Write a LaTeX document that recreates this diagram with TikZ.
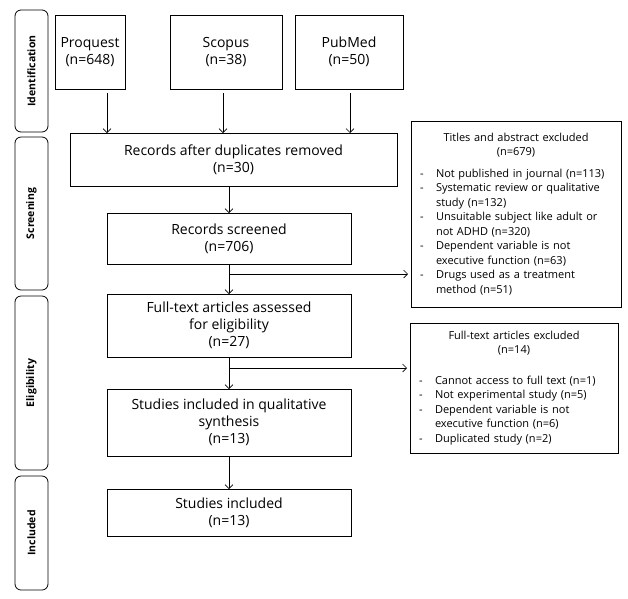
\documentclass[tikz,border=0pt]{standalone}
\usepackage{fontspec}
\setmainfont{Open Sans}
\usetikzlibrary{positioning,arrows.meta}
\newcommand{\xitem}[1]{\par\hangindent=20pt\hangafter=1\noindent\makebox[20pt][l]{\hspace{4pt}-}#1\par}

\begin{document}
\begin{tikzpicture}[x=1pt, y=-1pt,
    main/.style = {draw, rectangle, line width=0.8pt, inner sep=2pt, outer sep=0pt, align=center, font=\fontsize{14}{17}\selectfont},
    side/.style = {draw, rectangle, rounded corners=6pt, line width=0.8pt, minimum height=33pt, rotate=90, outer sep=0pt, font=\fontsize{10.5}{12}\selectfont\bfseries},
    excl/.style = {draw, rectangle, line width=0.8pt, inner sep=5pt, outer sep=0pt, font=\fontsize{11}{14.5}\selectfont},
    arr/.style = {-{Straight Barb[length=4pt, width=8pt]}, line width=0.6pt}]
    \useasboundingbox (0,0) rectangle (628,598);
    \node[side, minimum width=122pt] (11) at (31.5,71) {Identification};
    \node[side, minimum width=153pt] (12) at (31.5,213.5) {Screening};
    \node[side, minimum width=174pt] (13) at (31.5,383) {Eligibility};
    \node[side, minimum width=114pt] (14) at (31.5,533) {Included};
    \node[main, minimum width=70pt, minimum height=74pt] (1) at (90,52) {Proquest\\(n=648)};
    \node[main, minimum width=112pt, minimum height=74pt] (2) [right = 45pt of 1] {Scopus\\(n=38)};
    \node[main, minimum width=108pt, minimum height=74pt] (3) [right = 13pt of 2] {PubMed\\(n=50)};
    \node[main, minimum width=327pt, minimum height=53pt] (4) at (233.5,159.5) {Records after duplicates removed\\(n=30)};
    \node[main, minimum width=244pt, minimum height=51pt] (5) at (229,238.5) {Records screened\\(n=706)};
    \node[main, minimum width=244pt, minimum height=63pt] (6) [below = 30pt of 5] {Full-text articles assessed\\for eligibility\\(n=27)};
    \node[main, minimum width=244pt, minimum height=67pt] (7) [below = 32pt of 6] {Studies included in qualitative\\synthesis\\(n=13)};
    \node[main, minimum width=244pt, minimum height=47pt] (8) [below = 33pt of 7] {Studies included\\(n=13)};
    \node[excl, text width=200pt, minimum height=186pt] (9) at (516,214) {{\centering Titles and abstract excluded\\(n=679)\par}\vspace{7pt}
        \xitem{Not published in journal (n=113)}
        \xitem{Systematic review or qualitative\newline study (n=132)}
        \xitem{Unsuitable subject like adult or\newline not ADHD (n=320)}
        \xitem{Dependent variable is not\newline executive function (n=63)}
        \xitem{Drugs used as a treatment\newline method (n=51)}};
    \node[excl, text width=198pt, minimum height=130pt] (10) at (514,388) {{\centering Full-text articles excluded\\(n=14)\par}\vspace{16pt}
        \xitem{Cannot access to full text (n=1)}
        \xitem{Not experimental study (n=5)}
        \xitem{Dependent variable is not\newline executive function (n=6)}
        \xitem{Duplicated study (n=2)}};
    \coordinate (a1) at ([xshift=17pt, yshift=-4pt]1.south);
    \coordinate (a2) at ([xshift=-3pt, yshift=-4pt]2.south);
    \coordinate (a3) at ([xshift=1pt, yshift=-4pt]3.south);
    \draw[arr] (a1) -- (a1 |- 4.north);
    \draw[arr] (a2) -- (a2 |- 4.north);
    \draw[arr] (a3) -- (a3 |- 4.north);
    \draw[arr] (5.north |- 4.south) -- (5.north);
    \draw[arr] (5) -- (6);
    \draw[arr] (6) -- (7);
    \draw[arr] (7) -- (8);
    \draw[arr, shorten >=3pt] ([yshift=-10pt]5.south) -- ([yshift=-10pt]5.south -| 9.west);
    \draw[arr, shorten >=3pt] ([yshift=-11pt]6.south) -- ([yshift=-11pt]6.south -| 10.west);
\end{tikzpicture}
\end{document}
